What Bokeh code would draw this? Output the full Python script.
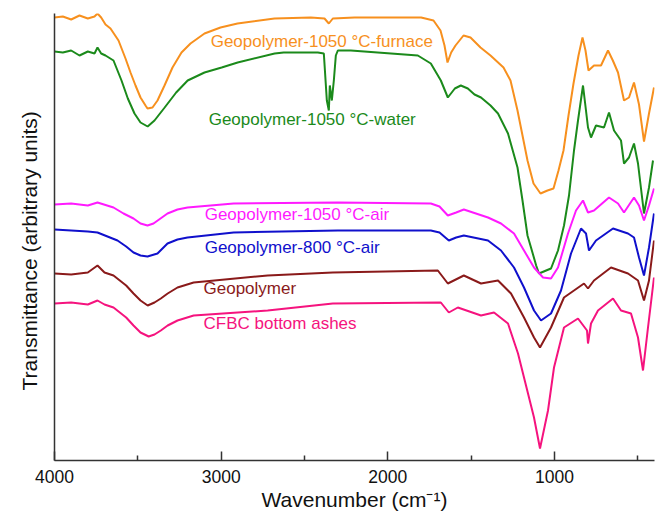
from bokeh.plotting import figure
from bokeh.models import Range1d, FixedTicker, Title
from bokeh.core.properties import value
from bokeh.embed import file_html
from bokeh.resources import INLINE

# ---- data (wavenumber in cm^-1, transmittance in arbitrary offset units) ----
furnace_wn = [4000, 3950, 3900, 3850, 3800, 3760, 3742, 3720, 3694, 3664, 3616, 3574, 3544, 3514, 3484,
              3454, 3442, 3412, 3382, 3340, 3292, 3238, 3184, 3100, 3004, 2902, 2680, 2462, 2380, 2354,
              2330, 2200, 2000, 1800, 1726, 1684, 1660, 1642, 1620, 1594, 1546, 1504, 1444, 1384, 1306,
              1264, 1222, 1192, 1162, 1126, 1084, 1042, 1006, 976, 946, 916, 886, 856, 832, 814,
              796, 763, 721, 679, 650, 619, 583, 553, 523, 493, 463, 433, 403]
furnace_t = [443, 444, 441, 445, 442, 444, 447, 443, 436, 432, 420, 402, 388, 375, 363,
             355, 352, 353, 360, 375, 393, 408, 417, 427, 433, 437, 442, 443, 442, 437,
             442, 443, 443, 443, 440, 430, 415, 398, 408, 415, 425, 423, 413, 405, 393,
             380, 350, 325, 300, 277, 267, 270, 272, 290, 310, 345, 377, 405, 423, 410,
             390, 395, 395, 410, 400, 388, 360, 363, 378, 356, 319, 347, 373]

water_wn = [4000, 3950, 3900, 3850, 3800, 3760, 3742, 3720, 3694, 3646, 3598, 3560, 3520, 3484, 3441,
            3400, 3339, 3270, 3201, 3100, 2997, 2901, 2679, 2625, 2420, 2384, 2366, 2354, 2348, 2336,
            2324, 2312, 2300, 2222, 1820, 1742, 1682, 1640, 1598, 1562, 1520, 1480, 1441, 1384, 1339,
            1279, 1222, 1192, 1162, 1141, 1110, 1093, 1050, 1021, 979, 943, 913, 883, 859, 829,
            799, 781, 751, 703, 673, 643, 601, 583, 553, 523, 499, 463, 433, 409]
water_t = [409, 408, 410, 405, 409, 407, 413, 407, 405, 400, 380, 362, 347, 338, 334,
           340, 353, 368, 380, 388, 393, 398, 407, 408, 408, 407, 360, 350, 375, 360,
           380, 405, 410, 410, 405, 397, 380, 363, 372, 375, 372, 366, 363, 355, 347,
           327, 293, 260, 225, 213, 195, 187, 190, 192, 210, 235, 265, 310, 340, 375,
           333, 323, 335, 333, 348, 330, 320, 297, 303, 317, 297, 247, 273, 300]

air1050_wn = [4000, 3900, 3800, 3742, 3646, 3586, 3526, 3484, 3442, 3406, 3364, 3322, 3262, 3202, 2925,
              2300, 1742, 1690, 1640, 1590, 1544, 1399, 1321, 1243, 1183, 1123, 1069, 1021, 979, 919,
              871, 829, 799, 763, 673, 619, 583, 523, 493, 463, 433, 403]
air1050_t = [256, 257, 255, 258, 253, 247, 242, 237, 235, 237, 242, 247, 251, 253, 257,
             258, 257, 254, 245, 248, 251, 243, 237, 227, 210, 193, 183, 182, 193, 227,
             250, 260, 248, 250, 263, 257, 248, 263, 255, 240, 255, 272]

air800_wn = [4000, 3900, 3800, 3742, 3622, 3570, 3526, 3484, 3442, 3382, 3322, 3262, 3202, 2925, 2300,
             1742, 1690, 1634, 1590, 1544, 1399, 1321, 1243, 1183, 1123, 1081, 1021, 961, 901, 841,
             811, 793, 751, 649, 559, 523, 493, 463, 433, 403]
air800_t = [231, 230, 229, 228, 220, 214, 208, 205, 204, 207, 217, 221, 223, 228, 230,
            230, 228, 220, 223, 225, 220, 210, 193, 173, 150, 140, 147, 170, 207, 232,
            227, 210, 220, 232, 227, 223, 203, 185, 213, 247]

geo_wn = [4000, 3900, 3800, 3742, 3700, 3646, 3570, 3526, 3484, 3441, 3400, 3362, 3321, 3262, 3165,
          2721, 2330, 1700, 1640, 1544, 1441, 1339, 1261, 1183, 1123, 1087, 1021, 943, 823, 799,
          763, 661, 559, 499, 463, 433, 403]
geo_t = [187, 186, 188, 195, 188, 185, 175, 167, 160, 155, 158, 162, 167, 173, 178,
         185, 188, 190, 177, 185, 177, 180, 167, 143, 123, 113, 133, 163, 177, 172,
         180, 193, 187, 180, 160, 180, 220]

cfbc_wn = [4000, 3900, 3800, 3742, 3700, 3646, 3570, 3526, 3484, 3435, 3400, 3362, 3321, 3262, 3165,
           2721, 2330, 1682, 1634, 1580, 1441, 1363, 1279, 1219, 1159, 1123, 1087, 1039, 1003, 943,
           859, 805, 799, 781, 739, 649, 601, 541, 499, 469, 439, 403]
cfbc_t = [157, 158, 156, 160, 156, 153, 143, 135, 128, 124, 126, 130, 135, 140, 145,
          150, 157, 158, 148, 153, 145, 148, 137, 107, 67, 43, 12, 50, 93, 133,
          142, 130, 117, 137, 150, 162, 150, 147, 123, 90, 133, 183]

series_names = ["Geopolymer-1050 \u00b0C-furnace", "Geopolymer-1050 \u00b0C-water",
                "Geopolymer-1050 \u00b0C-air", "Geopolymer-800 \u00b0C-air",
                "Geopolymer", "CFBC bottom ashes"]
label_wn = [3063, 3075, 3099, 3099, 3106, 3106]
label_t = [419, 341, 246, 213, 172, 137]

colors = ["#F7901E", "#1B8A1B", "#FF1AFF", "#1010CC", "#8A1A1A", "#F5137E"]

series = [(furnace_wn, furnace_t), (water_wn, water_t), (air1050_wn, air1050_t),
          (air800_wn, air800_t), (geo_wn, geo_t), (cfbc_wn, cfbc_t)]

FONT = "Liberation Sans"

p = figure(width=657, height=516, output_backend="svg", toolbar_location=None,
           x_range=Range1d(4000, 400), y_range=Range1d(0, 447),
           min_border_left=54, min_border_right=3, min_border_top=13, min_border_bottom=56)
p.outline_line_color = None
p.xgrid.visible = False
p.ygrid.visible = False
p.background_fill_color = "white"
p.border_fill_color = "white"

for (wn, t), c in zip(series, colors):
    p.line(wn, t, line_color=c, line_width=2)

p.text(x=label_wn, y=label_t, text=series_names, text_color=colors,
       text_font=value(FONT), text_font_size="17px", text_baseline="middle", text_align="left")

# x axis
xa = p.xaxis[0]
xa.ticker = FixedTicker(ticks=[4000, 3000, 2000, 1000], minor_ticks=[3500, 2500, 1500, 500])
xa.major_tick_in = 9
xa.major_tick_out = 0
xa.minor_tick_in = 5
xa.minor_tick_out = 0
xa.axis_line_width = 1.5
xa.axis_line_color = "#333333"
xa.major_tick_line_color = "#333333"
xa.minor_tick_line_color = "#333333"
xa.major_tick_line_width = 1.5
xa.minor_tick_line_width = 1.5
xa.major_label_text_font = FONT
xa.major_label_text_font_size = "17.5px"
xa.major_label_text_color = "#111111"
xa.major_label_standoff = 9
xa.axis_label = "Wavenumber (cm\u207b\u00b9)"
xa.axis_label_text_font = FONT
xa.axis_label_text_font_size = "21px"
xa.axis_label_text_font_style = "normal"
xa.axis_label_text_color = "#111111"
xa.axis_label_standoff = 2

# y axis (no ticks, no labels)
ya = p.yaxis[0]
ya.ticker = FixedTicker(ticks=[])
ya.major_tick_in = 0
ya.major_tick_out = 0
ya.minor_tick_in = 0
ya.minor_tick_out = 0
ya.major_label_text_font_size = "0px"
ya.axis_line_width = 1.5
ya.axis_line_color = "#333333"

ytitle = Title(text="Transmittance (arbitrary units)", align="left", offset=70, standoff=24,
               vertical_align="top",
               text_font=FONT, text_font_size="21px", text_font_style="normal", text_color="#111111")
p.add_layout(ytitle, "left")

open("out.html", "w").write(file_html(p, INLINE))
